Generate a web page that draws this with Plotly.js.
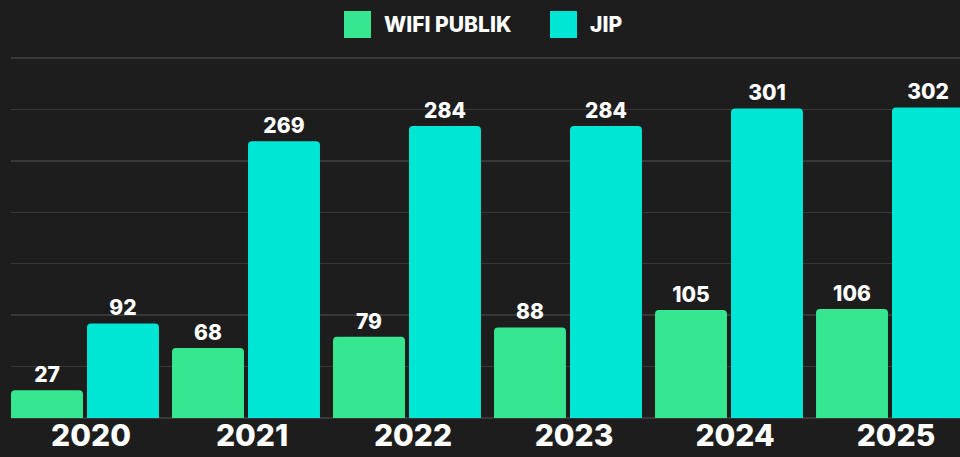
<!DOCTYPE html>
<html>
<head>
<meta charset="utf-8">
<script src="https://cdn.plot.ly/plotly-3.0.1.min.js"></script>
<style>
  html, body { margin: 0; padding: 0; background: #1d1d1d; overflow: hidden; }
  #chart { width: 960px; height: 457px; }
</style>
</head>
<body>
<div id="chart"></div>
<script>
const years = ['2020', '2021', '2022', '2023', '2024', '2025'];
const wifiPublik = [27, 68, 79, 88, 105, 106];
const jip = [92, 269, 284, 284, 301, 302];
const seriesNames = ['WIFI PUBLIK', 'JIP'];
const seriesColors = ['#36e78f', '#00e6d4'];

const W = 960, H = 457;
const margin = { l: 11, r: 0, t: 57, b: 39 };
const plotW = W - margin.l - margin.r;
const plotH = H - margin.t - margin.b;

// pixel -> paper helpers for the custom legend
const px = x => (x - margin.l) / plotW;
const py = y => (H - margin.b - y) / plotH;

const font = 'Inter, "DejaVu Sans", sans-serif';

function barTrace(name, values, color) {
    return {
        type: 'bar',
        name: name,
        x: years,
        y: values,
        marker: { color: color },
        text: values.map(String),
        textposition: 'outside',
        cliponaxis: false,
        textfont: { family: font, size: 21, color: '#ffffff', weight: 800 },
        hoverinfo: 'skip',
        showlegend: false
    };
}

const data = [
    barTrace(seriesNames[0], wifiPublik, seriesColors[0]),
    barTrace(seriesNames[1], jip, seriesColors[1])
];

// legend squares + labels, drawn in paper space
const legendItems = [
    { sq: [344, 371], text: 382 },
    { sq: [550, 577], text: 588 }
];
const shapes = legendItems.map((it, i) => ({
    type: 'rect', xref: 'paper', yref: 'paper',
    x0: px(it.sq[0]), x1: px(it.sq[1]), y0: py(38), y1: py(11),
    fillcolor: seriesColors[i], line: { width: 0 }
}));
const annotations = legendItems.map((it, i) => ({
    xref: 'paper', yref: 'paper', x: px(it.text), y: py(24.5),
    xanchor: 'left', yanchor: 'middle', showarrow: false,
    text: seriesNames[i],
    font: { family: font, size: 21, color: '#ffffff', weight: 800 }
}));

const layout = {
    width: W,
    height: H,
    margin: margin,
    paper_bgcolor: '#1d1d1d',
    plot_bgcolor: '#1d1d1d',
    barmode: 'group',
    bargap: 0.056,
    bargroupgap: 0.053,
    barcornerradius: 4,
    showlegend: false,
    xaxis: {
        type: 'category',
        range: [-0.4596, -0.4596 + plotW / 161],
        showgrid: false,
        zeroline: false,
        showline: false,
        ticks: '',
        ticklabelshift: 6,
        ticklabelstandoff: -3,
        tickfont: { family: font, size: 30, color: '#ffffff', weight: 800 },
        fixedrange: true
    },
    yaxis: {
        range: [0, 351],
        dtick: 50,
        showticklabels: false,
        gridcolor: '#383838',
        gridwidth: 1.5,
        zeroline: true,
        zerolinecolor: '#383838',
        zerolinewidth: 1.5,
        fixedrange: true
    },
    shapes: shapes,
    annotations: annotations
};

Plotly.newPlot('chart', data, layout, { displayModeBar: false, staticPlot: true });
</script>
</body>
</html>
